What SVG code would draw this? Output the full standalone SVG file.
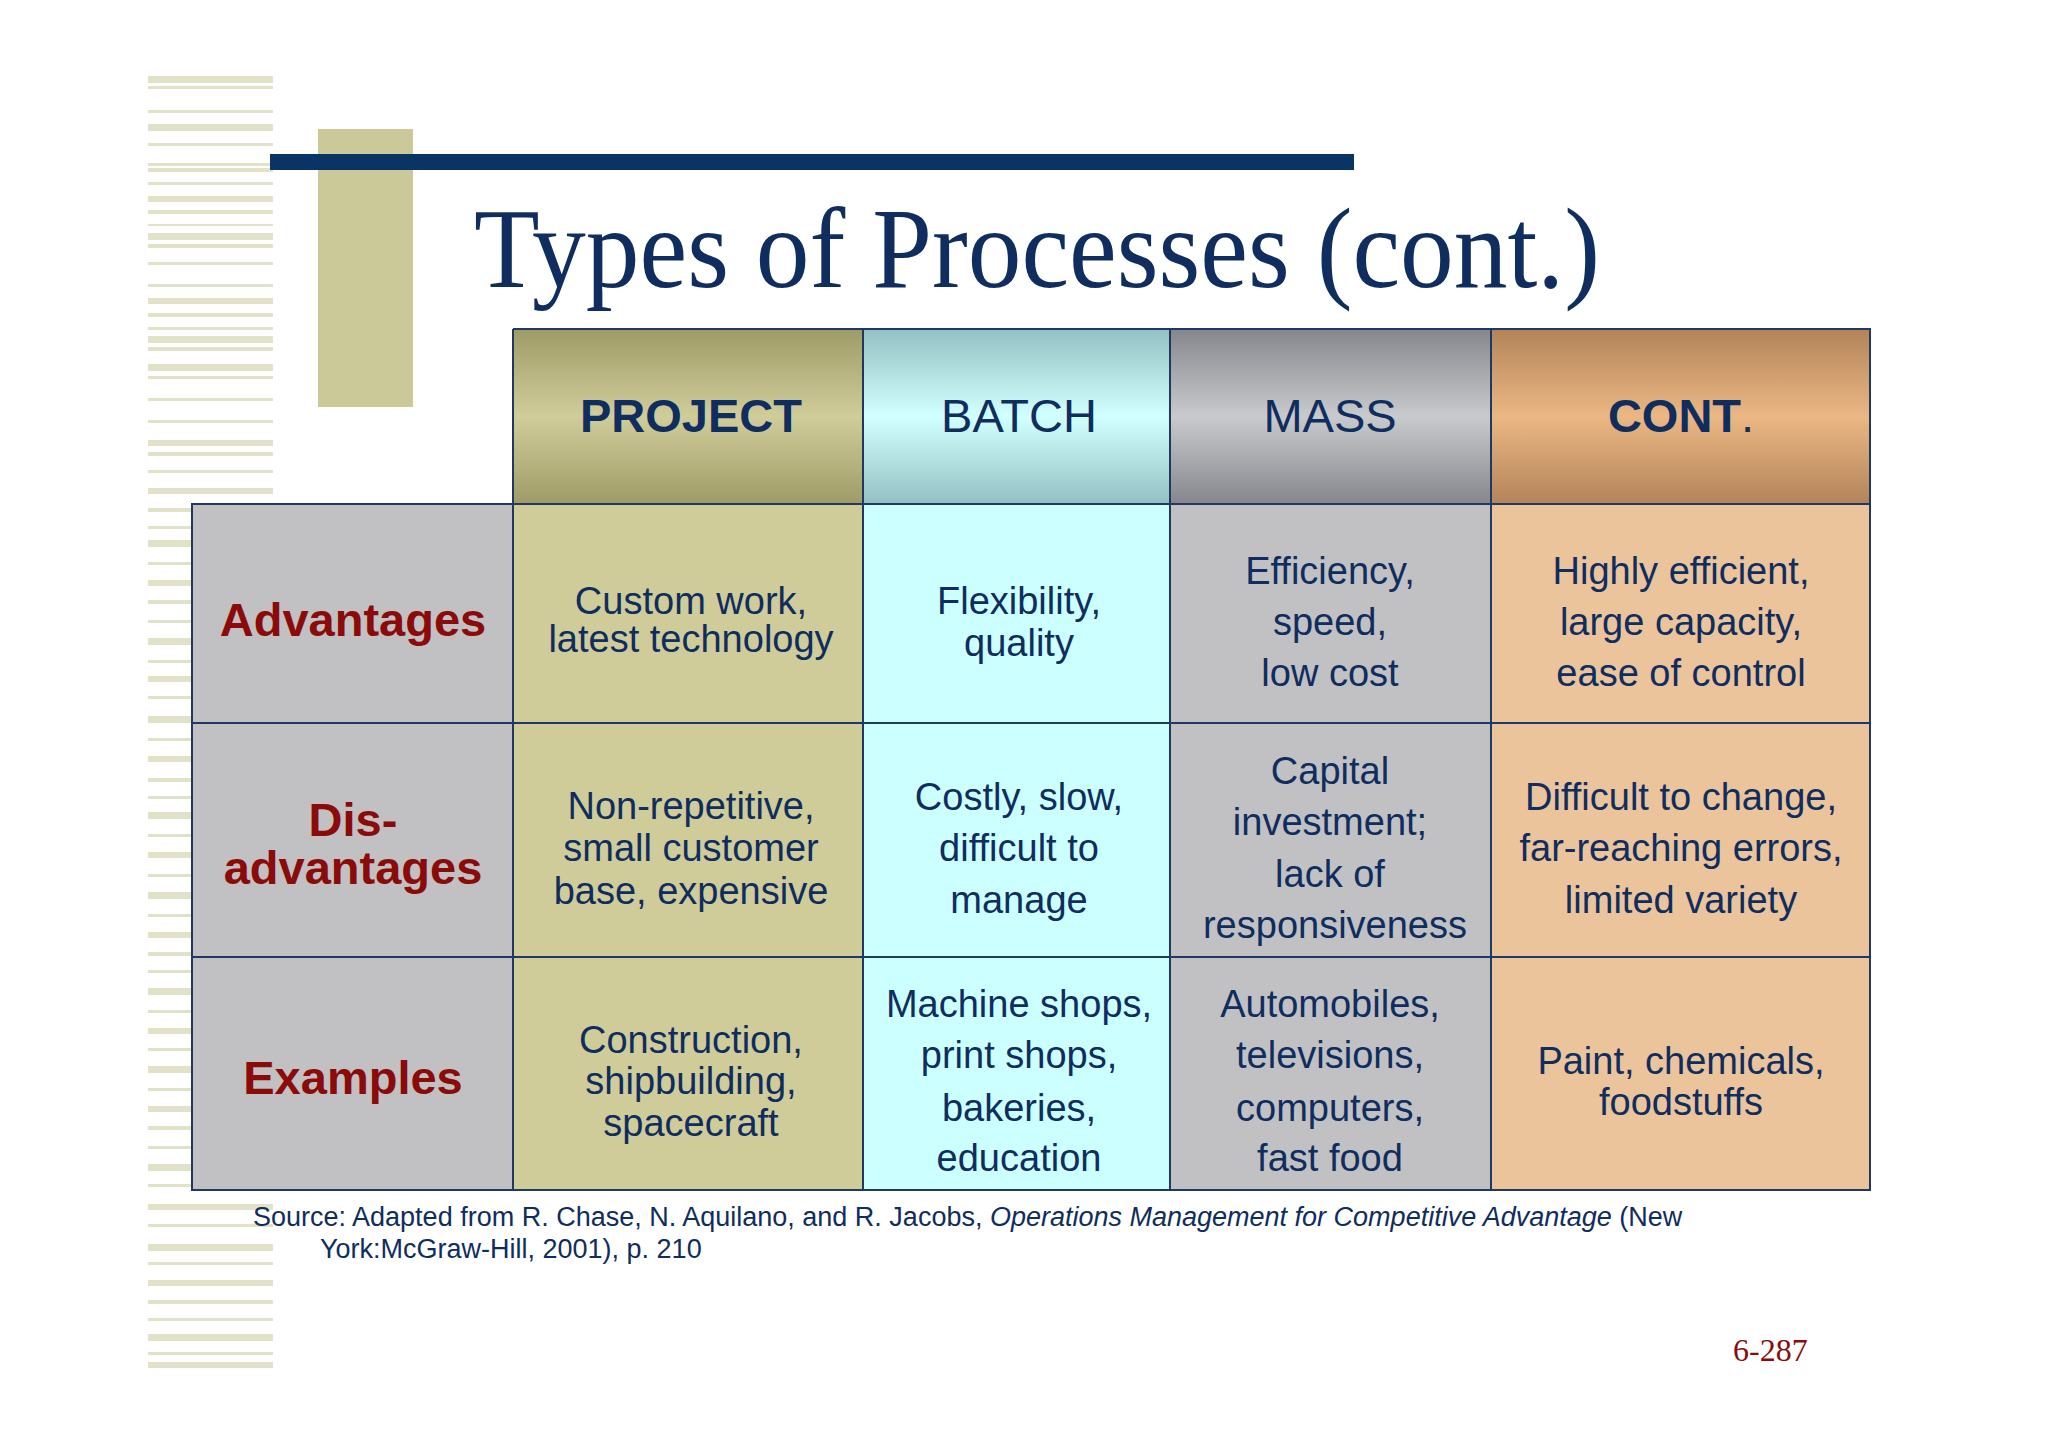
<svg xmlns="http://www.w3.org/2000/svg" width="2048" height="1447" viewBox="0 0 2048 1447">
<style>
.t{font-family:"Liberation Sans",Arial,sans-serif;fill:#0f2d5e;text-anchor:middle}
.c{font-size:38px}
.h{font-size:47px}
.b{font-weight:bold}
.r{font-family:"Liberation Sans",Arial,sans-serif;font-size:47px;font-weight:bold;fill:#8b0a0a;text-anchor:middle}
.g{stroke:#1f3864;stroke-width:2;fill:none}
.s{fill:#e2e2c8}
</style>
<defs>
<linearGradient id="gp" x1="0" y1="0" x2="0" y2="1"><stop offset="0" stop-color="#9f9b66"/><stop offset="0.5" stop-color="#d0cd9b"/><stop offset="1" stop-color="#9f9b66"/></linearGradient>
<linearGradient id="gb" x1="0" y1="0" x2="0" y2="1"><stop offset="0" stop-color="#93c0c2"/><stop offset="0.5" stop-color="#d2ffff"/><stop offset="1" stop-color="#93c0c2"/></linearGradient>
<linearGradient id="gm" x1="0" y1="0" x2="0" y2="1"><stop offset="0" stop-color="#85878d"/><stop offset="0.5" stop-color="#c9cacd"/><stop offset="1" stop-color="#85878d"/></linearGradient>
<linearGradient id="gc" x1="0" y1="0" x2="0" y2="1"><stop offset="0" stop-color="#b3845a"/><stop offset="0.5" stop-color="#ebb783"/><stop offset="1" stop-color="#b3845a"/></linearGradient>
</defs>
<rect width="2048" height="1447" fill="#ffffff"/>
<g id="stripes">
<rect class="s" x="148" y="76" width="125" height="7"/><rect class="s" x="148" y="86" width="125" height="3"/><rect class="s" x="148" y="110" width="125" height="3"/><rect class="s" x="148" y="124" width="125" height="7"/><rect class="s" x="148" y="143" width="125" height="3"/><rect class="s" x="148" y="163" width="125" height="3"/><rect class="s" x="148" y="168" width="125" height="4"/><rect class="s" x="148" y="182" width="125" height="3"/><rect class="s" x="148" y="196" width="125" height="6"/><rect class="s" x="148" y="210" width="125" height="4"/><rect class="s" x="148" y="224" width="125" height="2"/><rect class="s" x="148" y="233" width="125" height="7"/><rect class="s" x="148" y="244" width="125" height="4"/><rect class="s" x="148" y="262" width="125" height="3"/><rect class="s" x="148" y="284" width="125" height="3"/><rect class="s" x="148" y="298" width="125" height="6"/><rect class="s" x="148" y="313" width="125" height="4"/><rect class="s" x="148" y="327" width="125" height="3"/><rect class="s" x="148" y="336" width="125" height="7"/><rect class="s" x="148" y="347" width="125" height="4"/><rect class="s" x="148" y="364" width="125" height="7"/><rect class="s" x="148" y="376" width="125" height="3"/><rect class="s" x="148" y="398" width="125" height="3"/><rect class="s" x="148" y="420" width="125" height="3"/><rect class="s" x="148" y="440" width="125" height="6"/><rect class="s" x="148" y="452" width="125" height="4"/><rect class="s" x="148" y="470" width="125" height="3"/><rect class="s" x="148" y="488" width="125" height="6"/><rect class="s" x="148" y="508" width="125" height="4"/><rect class="s" x="148" y="526" width="125" height="3"/><rect class="s" x="148" y="540" width="125" height="7"/><rect class="s" x="148" y="562" width="125" height="3"/><rect class="s" x="148" y="580" width="125" height="6"/><rect class="s" x="148" y="600" width="125" height="4"/><rect class="s" x="148" y="620" width="125" height="3"/><rect class="s" x="148" y="638" width="125" height="7"/><rect class="s" x="148" y="660" width="125" height="3"/><rect class="s" x="148" y="676" width="125" height="6"/><rect class="s" x="148" y="696" width="125" height="3"/><rect class="s" x="148" y="716" width="125" height="7"/><rect class="s" x="148" y="738" width="125" height="3"/><rect class="s" x="148" y="756" width="125" height="6"/><rect class="s" x="148" y="778" width="125" height="4"/><rect class="s" x="148" y="796" width="125" height="3"/><rect class="s" x="148" y="812" width="125" height="7"/><rect class="s" x="148" y="834" width="125" height="3"/><rect class="s" x="148" y="852" width="125" height="6"/><rect class="s" x="148" y="874" width="125" height="3"/><rect class="s" x="148" y="892" width="125" height="7"/><rect class="s" x="148" y="914" width="125" height="3"/><rect class="s" x="148" y="932" width="125" height="6"/><rect class="s" x="148" y="952" width="125" height="4"/><rect class="s" x="148" y="970" width="125" height="3"/><rect class="s" x="148" y="988" width="125" height="7"/><rect class="s" x="148" y="1010" width="125" height="3"/><rect class="s" x="148" y="1028" width="125" height="6"/><rect class="s" x="148" y="1048" width="125" height="3"/><rect class="s" x="148" y="1066" width="125" height="7"/><rect class="s" x="148" y="1088" width="125" height="3"/><rect class="s" x="148" y="1106" width="125" height="6"/><rect class="s" x="148" y="1126" width="125" height="4"/><rect class="s" x="148" y="1146" width="125" height="3"/><rect class="s" x="148" y="1164" width="125" height="7"/><rect class="s" x="148" y="1184" width="125" height="3"/><rect class="s" x="148" y="1204" width="125" height="6"/><rect class="s" x="148" y="1224" width="125" height="3"/><rect class="s" x="148" y="1244" width="125" height="7"/><rect class="s" x="148" y="1262" width="125" height="3"/><rect class="s" x="148" y="1280" width="125" height="6"/><rect class="s" x="148" y="1300" width="125" height="4"/><rect class="s" x="148" y="1318" width="125" height="3"/><rect class="s" x="148" y="1334" width="125" height="7"/><rect class="s" x="148" y="1352" width="125" height="3"/><rect class="s" x="148" y="1362" width="125" height="6"/>
</g>
<rect x="318" y="129" width="95" height="278" fill="#ccc998"/>
<rect x="270" y="154" width="1084" height="16" fill="#0a3366"/>
<text x="474" y="287" font-family="Liberation Serif,serif" font-size="114" fill="#0f2d5e" textLength="1126" lengthAdjust="spacingAndGlyphs">Types of Processes (cont.)</text>
<g id="table">
<rect x="513" y="329" width="350" height="175" fill="url(#gp)"/>
<rect x="863" y="329" width="307" height="175" fill="url(#gb)"/>
<rect x="1170" y="329" width="321" height="175" fill="url(#gm)"/>
<rect x="1491" y="329" width="379" height="175" fill="url(#gc)"/>
<rect x="192" y="504" width="321" height="686" fill="#c1c1c3"/>
<rect x="513" y="504" width="350" height="686" fill="#cfcc9a"/>
<rect x="863" y="504" width="307" height="686" fill="#ccffff"/>
<rect x="1170" y="504" width="321" height="686" fill="#c1c1c3"/>
<rect x="1491" y="504" width="379" height="686" fill="#ebc49c"/>
<path class="g" d="M513 329H1870V1190H192V504H1870M192 723H1870M192 957H1870M513 329V1190M863 329V1190M1170 329V1190M1491 329V1190"/>
</g>
<g id="header">
<text class="t h b" x="691" y="432">PROJECT</text>
<text class="t h" x="1019" y="432">BATCH</text>
<text class="t h" x="1330" y="432">MASS</text>
<text class="t h" x="1681" y="432"><tspan font-weight="bold">CONT</tspan>.</text>
</g>
<g id="labels">
<text class="r" x="353" y="636">Advantages</text>
<text class="r" x="353" y="836">Dis-</text>
<text class="r" x="353" y="884">advantages</text>
<text class="r" x="353" y="1094">Examples</text>
</g>
<g id="cells" class="t c">
<text class="t c" x="691" y="614">Custom work,</text><text class="t c" x="691" y="652">latest technology</text>
<text class="t c" x="1019" y="614">Flexibility,</text><text class="t c" x="1019" y="656">quality</text>
<text class="t c" x="1330" y="584">Efficiency,</text><text class="t c" x="1330" y="635">speed,</text><text class="t c" x="1330" y="686">low cost</text>
<text class="t c" x="1681" y="584">Highly efficient,</text><text class="t c" x="1681" y="635">large capacity,</text><text class="t c" x="1681" y="686">ease of control</text>
<text class="t c" x="691" y="819">Non-repetitive,</text><text class="t c" x="691" y="861">small customer</text><text class="t c" x="691" y="904">base, expensive</text>
<text class="t c" x="1019" y="810">Costly, slow,</text><text class="t c" x="1019" y="861">difficult to</text><text class="t c" x="1019" y="913">manage</text>
<text class="t c" x="1330" y="784">Capital</text><text class="t c" x="1330" y="835">investment;</text><text class="t c" x="1330" y="887">lack of</text><text class="t c" x="1335" y="938">responsiveness</text>
<text class="t c" x="1681" y="810">Difficult to change,</text><text class="t c" x="1681" y="861">far-reaching errors,</text><text class="t c" x="1681" y="913">limited variety</text>
<text class="t c" x="691" y="1053">Construction,</text><text class="t c" x="691" y="1094">shipbuilding,</text><text class="t c" x="691" y="1136">spacecraft</text>
<text class="t c" x="1019" y="1017">Machine shops,</text><text class="t c" x="1019" y="1068">print shops,</text><text class="t c" x="1019" y="1121">bakeries,</text><text class="t c" x="1019" y="1171">education</text>
<text class="t c" x="1330" y="1017">Automobiles,</text><text class="t c" x="1330" y="1068">televisions,</text><text class="t c" x="1330" y="1121">computers,</text><text class="t c" x="1330" y="1171">fast food</text>
<text class="t c" x="1681" y="1074">Paint, chemicals,</text><text class="t c" x="1681" y="1115">foodstuffs</text>
</g>
<g id="source" font-family="Liberation Sans,Arial,sans-serif" font-size="27" fill="#0f2d5e">
<text x="253" y="1226">Source: Adapted from R. Chase, N. Aquilano, and R. Jacobs, <tspan font-style="italic">Operations Management for Competitive Advantage</tspan> (New</text>
<text x="320" y="1258">York:McGraw-Hill, 2001), p. 210</text>
</g>
<text x="1733" y="1361" font-family="Liberation Serif,serif" font-size="32" fill="#8b0a0a">6-287</text>
</svg>
